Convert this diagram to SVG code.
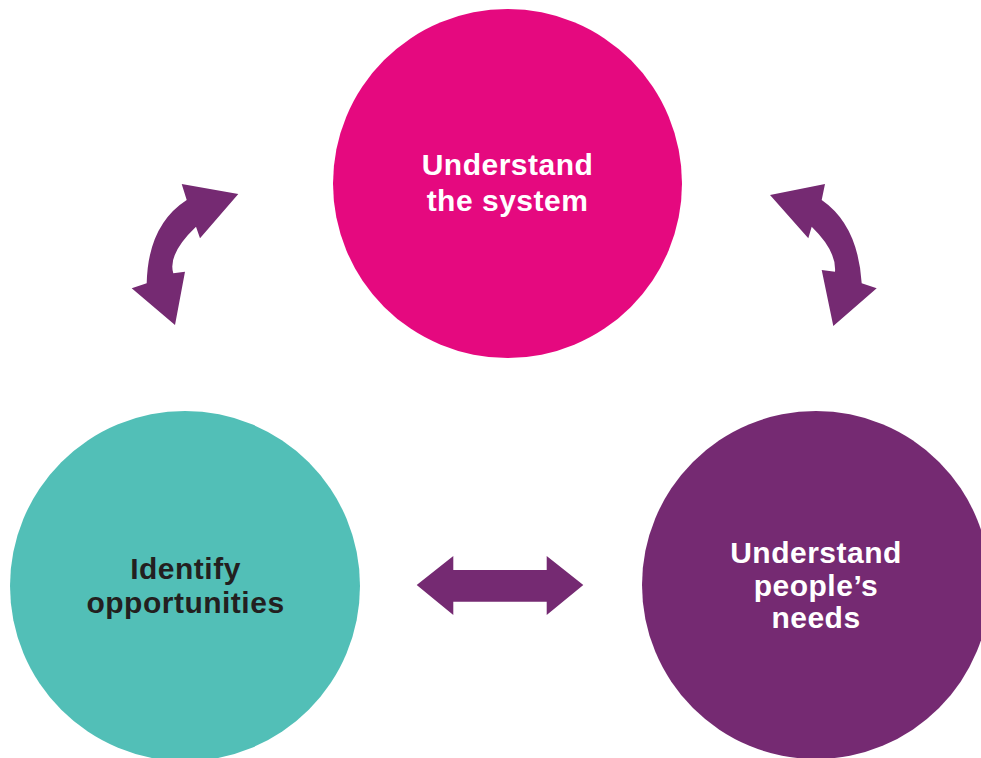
<svg xmlns="http://www.w3.org/2000/svg" width="981" height="758" viewBox="0 0 981 758">
  <style>
    .label { font-family: "Liberation Sans", Arial, sans-serif; font-weight: bold; font-size: 30px; letter-spacing: 0.5px; text-anchor: middle; }
    .light { fill: #ffffff; }
    .dark { fill: #231f20; }
    .arrow { fill: #752a72; }
  </style>
  <rect width="981" height="758" fill="#ffffff"/>

  <g id="node-system">
    <circle cx="507.5" cy="183.5" r="174.5" fill="#e5097f"/>
    <text class="label light" x="507.5" y="175">Understand</text>
    <text class="label light" x="507.5" y="210.5">the system</text>
  </g>

  <g id="node-opportunities">
    <circle cx="185" cy="586" r="175" fill="#52bfb7"/>
    <text class="label dark" x="185.5" y="579">Identify</text>
    <text class="label dark" x="185.5" y="613">opportunities</text>
  </g>

  <g id="node-needs">
    <circle cx="816" cy="585" r="174" fill="#752a72"/>
    <text class="label light" x="816" y="563">Understand</text>
    <text class="label light" x="816" y="595.5">people’s</text>
    <text class="label light" x="816" y="628">needs</text>
  </g>

  <g id="connectors">
    <!-- curved two-way arrow, left -->
    <path class="arrow" d="M186.7,200 L181.7,184 L238.3,194 L200,238.3 L196,226.7 Q167.4,254 173.3,273.3 L185,271.7 L175,325 L131.7,288.3 L146.7,283.3 Q148,225 186.7,200 Z"/>
    <!-- curved two-way arrow, right -->
    <path class="arrow" d="M821.7,200 L825,184 L770,195 L808.3,238.3 L811.7,226.7 Q836.6,250.8 835,271.7 L821.7,270 L833.3,326 L876.7,288.3 L861.7,283.3 Q858,225 821.7,200 Z"/>
    <!-- straight two-way arrow, bottom -->
    <path class="arrow" d="M416.7,585 L453.3,556 L453.3,570 L546.7,570 L546.7,556 L583.3,585 L546.7,615 L546.7,601.7 L453.3,601.7 L453.3,615 Z"/>
  </g>
</svg>
